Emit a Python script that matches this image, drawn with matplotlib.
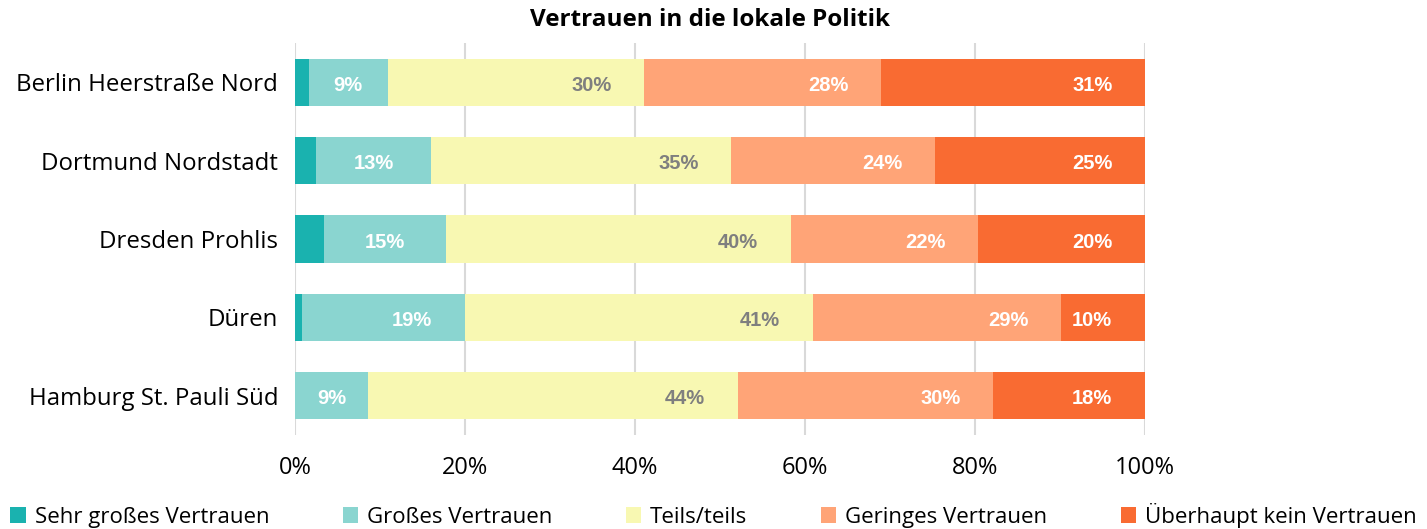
import matplotlib.pyplot as plt
import numpy as np

plt.rcParams['font.family'] = ['Open Sans', 'DejaVu Sans']

# Daten
orte = ["Berlin Heerstraße Nord", "Dortmund Nordstadt", "Dresden Prohlis", "Düren", "Hamburg St. Pauli Süd"]
kategorien = ["Sehr großes Vertrauen", "Großes Vertrauen", "Teils/teils",
              "Geringes Vertrauen", "Überhaupt kein Vertrauen"]
sehr_gross = [1.6, 2.5, 3.4, 0.8, 0.0]
gross = [9.3, 13.5, 14.4, 19.2, 8.6]
teils = [30.2, 35.3, 40.5, 40.9, 43.5]
gering = [27.8, 24.0, 22.1, 29.2, 30.0]
kein = [31.1, 24.7, 19.6, 9.9, 17.9]
beschriftung = [
    [None, "9%", "30%", "28%", "31%"],
    [None, "13%", "35%", "24%", "25%"],
    [None, "15%", "40%", "22%", "20%"],
    [None, "19%", "41%", "29%", "10%"],
    [None, "9%", "44%", "30%", "18%"],
]

farben = ['#1AB2AF', '#8AD5D0', '#F8F8B2', '#FFA477', '#F96B32']
textfarben = ['white', 'white', '#7F7F7F', 'white', 'white']

werte = np.array([sehr_gross, gross, teils, gering, kein])

fig = plt.figure(figsize=(14.27, 5.29), dpi=100)
ax = fig.add_axes([295 / 1427, 1 - 435 / 529, 850 / 1427, 392 / 529])

y = np.arange(len(orte))
links = np.zeros(len(orte))
for k in range(len(kategorien)):
    ax.barh(y, werte[k], left=links, height=0.6, color=farben[k], label=kategorien[k], zorder=2)
    for i in range(len(orte)):
        txt = beschriftung[i][k]
        if txt is None:
            continue
        ende = links[i] + werte[k][i]
        if k == 1 and werte[k][i] < 16:
            xpos = links[i] + werte[k][i] / 2
        else:
            xpos = ende - 6.2
        ax.text(xpos, y[i] + 0.04, txt, ha='center', va='center', color=textfarben[k],
                fontsize=14.5, fontweight='bold', family='Liberation Sans', zorder=3)
    links = links + werte[k]

ax.set_xlim(0, 100)
ax.set_ylim(4.5, -0.5)
ax.set_yticks(y)
ax.set_yticklabels(orte, fontsize=17.3)
ax.set_xticks(np.arange(0, 101, 20))
ax.set_xticklabels([f"{v}%" for v in range(0, 101, 20)], fontsize=17)
ax.tick_params(axis='both', length=0)
ax.tick_params(axis='y', pad=12)
ax.tick_params(axis='x', pad=15)
ax.grid(axis='x', color='#D9D9D9', linewidth=1.5, zorder=0)
for s in ax.spines.values():
    s.set_visible(False)

fig.suptitle("Vertrauen in die lokale Politik", x=710 / 1427, y=1 - 8 / 529, va='top',
             fontsize=17.5, fontweight='bold')

fig.legend(loc='lower center', bbox_to_anchor=(0.5, -0.035), ncol=5, frameon=False,
           fontsize=16, handlelength=0.7, handleheight=0.7, handletextpad=0.4,
           columnspacing=3.3)

plt.savefig('out.png', dpi=100)
